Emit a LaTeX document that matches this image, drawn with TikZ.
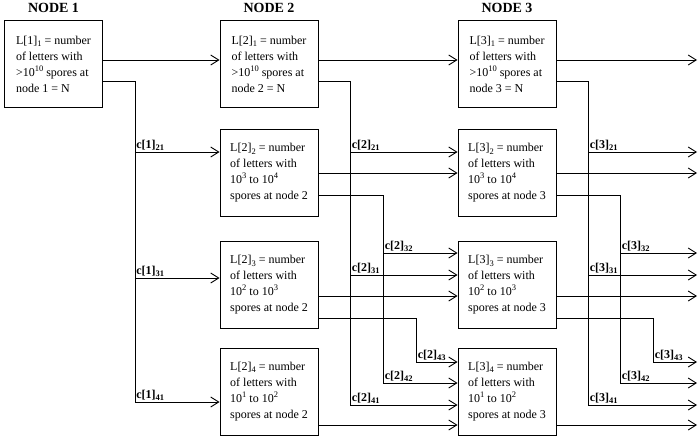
\documentclass[tikz,border=0pt]{standalone}
\usepackage{fontspec}
\setmainfont{Liberation Serif}
\usetikzlibrary{arrows.meta,calc}
\newcommand{\sbx}[1]{\raisebox{-0.45ex}{\fontsize{8.5}{8.5}\selectfont #1}}
\newcommand{\spx}[1]{\raisebox{0.9ex}{\fontsize{8.5}{8.5}\selectfont #1}}
\begin{document}
\begin{tikzpicture}[x=1pt,y=-1pt,
 box/.style={draw, line width=0.9pt, minimum width=98pt, minimum height=87pt, align=left, inner sep=0pt, font=\fontsize{12}{16}\selectfont},
 ln/.style={line width=0.9pt},
 arr/.style={ln, -{Straight Barb[length=8pt,width=10pt]}},
 lab/.style={anchor=south west, inner sep=1.2pt, font=\bfseries\fontsize{12}{14}\selectfont},
 ttl/.style={font=\bfseries\fontsize{14}{16}\selectfont, anchor=base}]
\fill[white] (0,0) rectangle (700,440);
\useasboundingbox (0,0) rectangle (700,440);

% titles
\node[ttl] (t1) at (53.5,12.5) {NODE 1};
\node[ttl] (t2) at (269,12.5) {NODE 2};
\node[ttl] (t3) at (507,12.5) {NODE 3};

% boxes
\node[box] (n11) at (53.5,64) {L[1]\sbx{1} = number\\of letters with\\>10\spx{10} spores at\\node 1 = N};
\node[box] (n21) at (269,64) {L[2]\sbx{1} = number\\of letters with\\>10\spx{10} spores at\\node 2 = N};
\node[box] (n22) at (269,173) {L[2]\sbx{2} = number\\of letters with\\10\spx{3}\ to 10\spx{4}\\spores at node 2};
\node[box] (n23) at (269,285) {L[2]\sbx{3} = number\\of letters with\\10\spx{2}\ to 10\spx{3}\\spores at node 2};
\node[box] (n24) at (269,391.5) {L[2]\sbx{4} = number\\of letters with\\10\spx{1}\ to 10\spx{2}\\spores at node 2};
\node[box] (n31) at (507,64) {L[3]\sbx{1} = number\\of letters with\\>10\spx{10} spores at\\node 3 = N};
\node[box] (n32) at (507,173) {L[3]\sbx{2} = number\\of letters with\\10\spx{3}\ to 10\spx{4}\\spores at node 3};
\node[box] (n33) at (507,285) {L[3]\sbx{3} = number\\of letters with\\10\spx{2}\ to 10\spx{3}\\spores at node 3};
\node[box] (n34) at (507,391.5) {L[3]\sbx{4} = number\\of letters with\\10\spx{1}\ to 10\spx{2}\\spores at node 3};

% input ports column 2
\coordinate (i22) at ($(n22.west)+(0,-21)$);
\coordinate (i23) at ($(n23.west)+(0,-7)$);
\coordinate (i24) at ($(n24.west)+(0,10.5)$);
% input ports column 3
\coordinate (j31) at ($(n31.west)+(0,-4)$);
\coordinate (j32a) at ($(n32.west)+(0,-21)$);
\coordinate (j32b) at (n32.west);
\coordinate (j33a) at ($(n33.west)+(0,-32)$);
\coordinate (j33b) at ($(n33.west)+(0,-10)$);
\coordinate (j33c) at ($(n33.west)+(0,11)$);
\coordinate (j34a) at ($(n34.west)+(0,-29.5)$);
\coordinate (j34b) at ($(n34.west)+(0,-8.5)$);
\coordinate (j34c) at ($(n34.west)+(0,13.5)$);
\coordinate (j34d) at ($(n34.west)+(0,33.5)$);
\coordinate (R) at (697,0);

% column 1 -> 2
\draw[arr] ($(n11.east)+(0,-4)$) -- ($(n21.west)+(0,-4)$);
\coordinate (b1) at ($(n11.east)+(32,17)$);
\draw[arr] ($(n11.east)+(0,17)$) -- (b1) |- (i24);
\draw[arr] (b1 |- i22) -- (i22);
\draw[arr] (b1 |- i23) -- (i23);
\node[lab] at (b1 |- i22) {c[1]\sbx{21}};
\node[lab] at (b1 |- i23) {c[1]\sbx{31}};
\node[lab] at (b1 |- i24) {c[1]\sbx{41}};

% column 2 -> 3
\draw[arr] ($(n21.east)+(0,-4)$) -- (j31);
\coordinate (b2) at ($(n21.east)+(32,17)$);
\draw[arr] ($(n21.east)+(0,17)$) -- (b2) |- (j34c);
\draw[arr] (b2 |- j32a) -- (j32a);
\draw[arr] (b2 |- j33b) -- (j33b);
\node[lab] at (b2 |- j32a) {c[2]\sbx{21}};
\node[lab] at (b2 |- j33b) {c[2]\sbx{31}};
\node[lab] at (b2 |- j34c) {c[2]\sbx{41}};

\draw[arr] (n22.east) -- (j32b);
\coordinate (b3) at ($(n22.east)+(65,22)$);
\draw[arr] ($(n22.east)+(0,22)$) -- (b3) |- (j34b);
\draw[arr] (b3 |- j33a) -- (j33a);
\node[lab] at (b3 |- j33a) {c[2]\sbx{32}};
\node[lab] at (b3 |- j34b) {c[2]\sbx{42}};

\draw[arr] ($(n23.east)+(0,11)$) -- (j33c);
\coordinate (b4) at ($(n23.east)+(98,33)$);
\draw[arr] ($(n23.east)+(0,33)$) -- (b4) |- (j34a);
\node[lab] at (b4 |- j34a) {c[2]\sbx{43}};

\draw[arr] ($(n24.east)+(0,33.5)$) -- (j34d);

% column 3 -> out
\draw[arr] ($(n31.east)+(0,-4)$) -- (R |- j31);
\coordinate (b5) at ($(n31.east)+(32,17)$);
\draw[arr] ($(n31.east)+(0,17)$) -- (b5) |- (R |- j34c);
\draw[arr] (b5 |- j32a) -- (R |- j32a);
\draw[arr] (b5 |- j33b) -- (R |- j33b);
\node[lab] at (b5 |- j32a) {c[3]\sbx{21}};
\node[lab] at (b5 |- j33b) {c[3]\sbx{31}};
\node[lab] at (b5 |- j34c) {c[3]\sbx{41}};

\draw[arr] (n32.east) -- (R |- j32b);
\coordinate (b6) at ($(n32.east)+(64,22)$);
\draw[arr] ($(n32.east)+(0,22)$) -- (b6) |- (R |- j34b);
\draw[arr] (b6 |- j33a) -- (R |- j33a);
\node[lab] at (b6 |- j33a) {c[3]\sbx{32}};
\node[lab] at (b6 |- j34b) {c[3]\sbx{42}};

\draw[arr] ($(n33.east)+(0,11)$) -- (R |- j33c);
\coordinate (b7) at ($(n33.east)+(97,33)$);
\draw[arr] ($(n33.east)+(0,33)$) -- (b7) |- (R |- j34a);
\node[lab] at (b7 |- j34a) {c[3]\sbx{43}};

\draw[arr] ($(n34.east)+(0,33.5)$) -- (R |- j34d);
\end{tikzpicture}
\end{document}
